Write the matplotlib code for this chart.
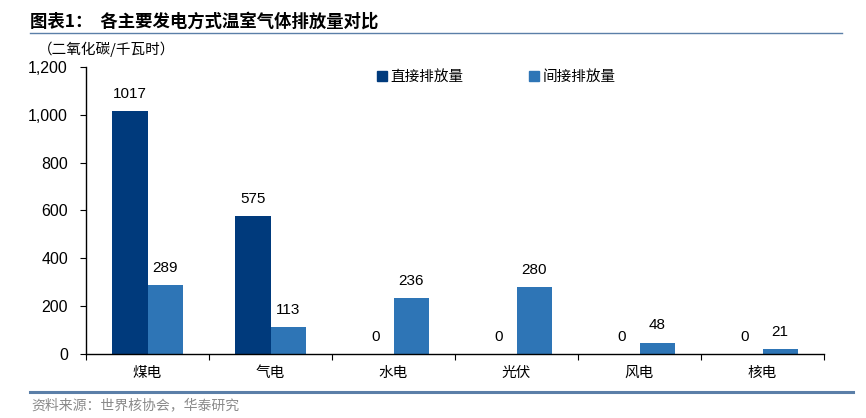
import matplotlib
matplotlib.use('Agg')
import matplotlib.pyplot as plt
import numpy as np
from matplotlib.lines import Line2D
from matplotlib.ticker import FuncFormatter, FixedLocator

plt.rcParams['font.family'] = ['Liberation Sans', 'Noto Sans CJK SC', 'DejaVu Sans']

categories = ['煤电', '气电', '水电', '光伏', '风电', '核电']
direct = [1017, 575, 0, 0, 0, 0]
indirect = [289, 113, 236, 280, 48, 21]

c_direct = '#003a7c'
c_indirect = '#2e75b6'
cjk = ['Noto Sans CJK SC', 'DejaVu Sans']

fig = plt.figure(figsize=(8.66, 4.18), dpi=100)
ax = fig.add_axes([86 / 866, 1 - 354 / 418, (824 - 86) / 866, (354 - 67) / 418])

x = np.arange(len(categories))
w = 0.285
ax.bar(x - w / 2, direct, w, color=c_direct, label='直接排放量')
ax.bar(x + w / 2, indirect, w, color=c_indirect, label='间接排放量')

for xi, v in zip(x - w / 2, direct):
    ax.text(xi, v + 42, str(v), ha='center', va='bottom', fontsize=11)
for xi, v in zip(x + w / 2, indirect):
    ax.text(xi, v + 42, str(v), ha='center', va='bottom', fontsize=11)

ax.set_xlim(-0.5, len(categories) - 0.5)
ax.set_ylim(0, 1200)
ax.set_yticks(range(0, 1201, 200))
ax.yaxis.set_major_formatter(FuncFormatter(lambda v, p: f'{int(v):,}'))
ax.tick_params(axis='y', labelsize=11.5, length=4, direction='out', pad=9)
ax.xaxis.set_major_locator(FixedLocator(np.arange(-0.5, len(categories), 1)))
ax.set_xticklabels([])
ax.tick_params(axis='x', length=4, direction='out')
for xi, c in zip(x, categories):
    ax.text(xi, -0.066, c, transform=ax.get_xaxis_transform(), ha='center', va='center',
            fontsize=10.5, family=cjk)
for s in ['top', 'right']:
    ax.spines[s].set_visible(False)
for s in ['left', 'bottom']:
    ax.spines[s].set_color('black')
    ax.spines[s].set_linewidth(1)

handles = [Line2D([], [], marker='s', linestyle='none', color=c_direct, markersize=7),
           Line2D([], [], marker='s', linestyle='none', color=c_indirect, markersize=7)]
leg = ax.legend(handles, ['直接排放量', '间接排放量'], loc='upper left',
                bbox_to_anchor=(0.373, 1.035), ncol=2, frameon=False, handletextpad=0.1,
                columnspacing=4.3, prop={'family': cjk, 'size': 10.5}, handlelength=1.0)

# header and footer
fig.text(30 / 866, 1 - 22 / 418, '图表1：  各主要发电方式温室气体排放量对比', fontsize=12.5,
         fontweight='bold', family=cjk, va='center', ha='left')
fig.add_artist(Line2D([30 / 866, 842 / 866], [1 - 33 / 418] * 2, color='#5b7fa8', lw=1))
fig.text(38 / 866, 1 - 49 / 418, '（二氧化碳/千瓦时）', fontsize=10.5, family=cjk,
         va='center', ha='left')
fig.add_artist(Line2D([30 / 866, 853 / 866], [1 - 392 / 418] * 2, color='#5b7fa8', lw=2.2))
fig.text(31 / 866, 1 - 405 / 418, '资料来源：世界核协会，华泰研究', fontsize=10, family=cjk,
         color='#8a8a8a', va='center', ha='left')

fig.savefig('out.png', dpi=100)
